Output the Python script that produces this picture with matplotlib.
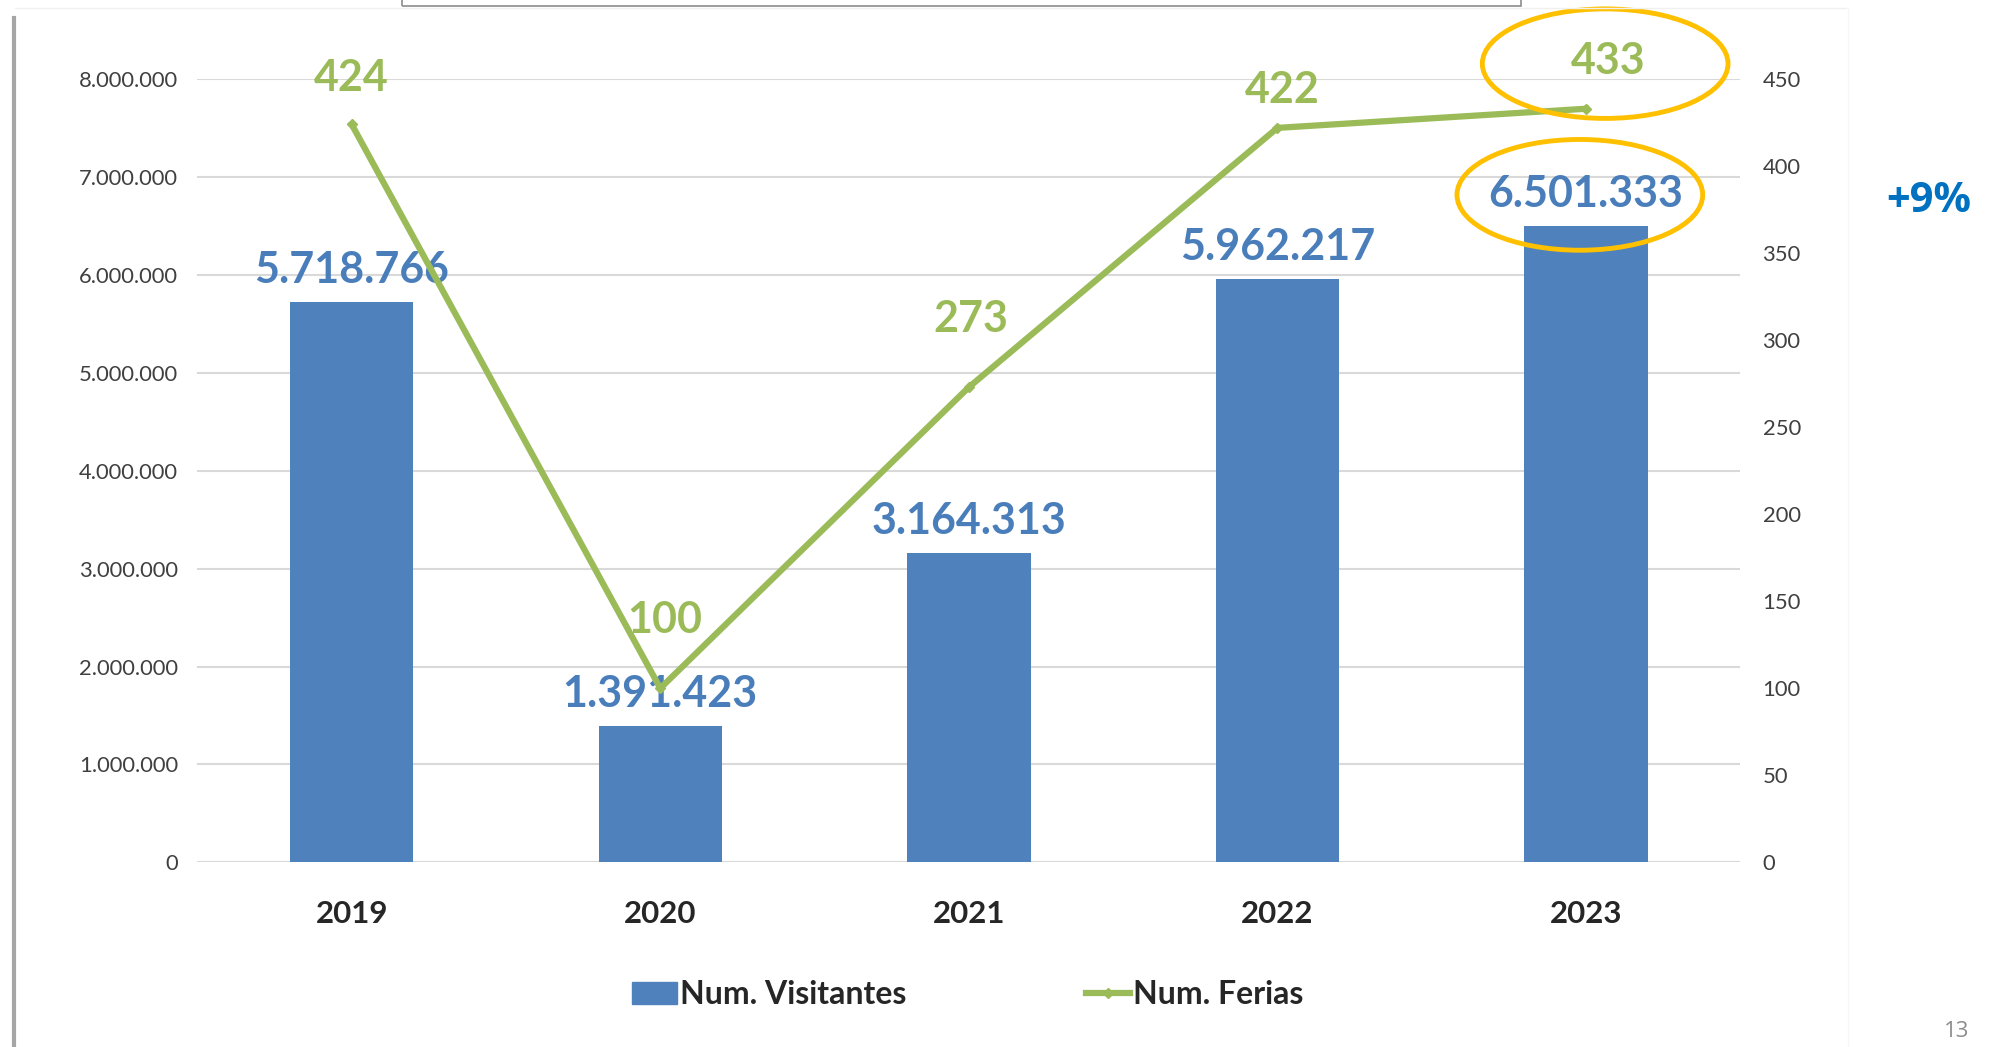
import matplotlib.pyplot as plt
from matplotlib.patches import Ellipse, Rectangle
from matplotlib.lines import Line2D
from matplotlib.ticker import FuncFormatter

years = ['2019', '2020', '2021', '2022', '2023']
visitantes = [5718766, 1391423, 3164313, 5962217, 6501333]
ferias = [424, 100, 273, 422, 433]
# label offsets above the line points (pixels)
ferias_dy = [46, 68, 68, 38, 48]
ferias_dx = [0, 4, 2, 5, 22]

BLUE = '#4f81bd'
GREEN = '#9bbb59'
plt.rcParams['font.family'] = ['Lato', 'DejaVu Sans']


def miles(v, pos=None):
    return f'{int(v):,}'.replace(',', '.')


fig = plt.figure(figsize=(19.96, 10.47), dpi=100)
ax = fig.add_axes([0.0989, 0.1764, 0.773, 0.748])
x = range(len(years))

ax.bar(x, visitantes, width=0.4, color=BLUE, zorder=2)
ax.set_xlim(-0.5, 4.5)
ax.set_ylim(0, 8000000)
ax.set_yticks(range(0, 8000001, 1000000))
ax.yaxis.set_major_formatter(FuncFormatter(miles))
ax.grid(axis='y', color='#d9d9d9', linewidth=1.5, zorder=0)
ax.set_axisbelow(True)
ax.set_xticks(list(x))
ax.set_xticklabels(years, fontsize=22.5, fontweight='bold', color='#262626')
ax.tick_params(axis='x', length=0, pad=27)
ax.tick_params(axis='y', length=0, pad=14, labelsize=15.8, labelcolor='#404040')
for s in ax.spines.values():
    s.set_visible(False)

for i, v in enumerate(visitantes):
    ax.annotate(miles(v), (i, v), xytext=(0, 12), textcoords='offset pixels',
                ha='center', va='bottom', fontsize=31, fontweight='bold',
                color='#4a7ebb', zorder=3)

ax2 = ax.twinx()
ax2.plot(x, ferias, color=GREEN, linewidth=4.5, marker='D', markersize=5, zorder=4)
ax2.set_ylim(0, 450)
ax2.set_yticks(range(0, 451, 50))
ax2.tick_params(axis='y', length=0, pad=16, labelsize=15.8, labelcolor='#404040')
for s in ax2.spines.values():
    s.set_visible(False)

for i, v in enumerate(ferias):
    ax2.annotate(str(v), (i, v), xytext=(ferias_dx[i], ferias_dy[i]), textcoords='offset pixels',
                 ha='center', va='center', fontsize=31, fontweight='bold', color=GREEN)

# highlight ellipses
fig.add_artist(Ellipse((0.8042, 0.9392), 0.1231, 0.1046, transform=fig.transFigure,
                       fill=False, edgecolor='#ffc000', linewidth=3.5))
fig.add_artist(Ellipse((0.7915, 0.8139), 0.1231, 0.1058, transform=fig.transFigure,
                       fill=False, edgecolor='#ffc000', linewidth=3.5))

handles = [Rectangle((0, 0), 1, 1, color=BLUE),
           Line2D([0], [0], color=GREEN, linewidth=4.5, marker='D', markersize=5)]
fig.legend(handles, ['Num. Visitantes', 'Num. Ferias'], loc='center',
           bbox_to_anchor=(0.485, 0.05), ncol=2, frameon=False,
           prop={'size': 23, 'weight': 'bold'}, labelcolor='#262626',
           handlelength=1.4, handleheight=0.7, handletextpad=0.1, columnspacing=5.6)

# slide decorations
fig.add_artist(Rectangle((316 / 1568, 1 - 5 / 822), (1195 - 316) / 1568, 0.05,
                         transform=fig.transFigure, fill=False, edgecolor='#8c8c8c', linewidth=1.2))
fig.add_artist(Line2D([11 / 1568, 11 / 1568], [0, 1 - 14 / 822], transform=fig.transFigure,
                      color='#a6a6a6', linewidth=3))
fig.add_artist(Line2D([12 / 1568, 1450 / 1568], [1 - 6 / 822, 1 - 6 / 822], transform=fig.transFigure,
                      color='#f0f0f0', linewidth=1))
fig.add_artist(Line2D([1452 / 1568, 1452 / 1568], [0, 1 - 6 / 822], transform=fig.transFigure,
                      color='#f6f6f6', linewidth=1))

fig.text(1515 / 1568, 1 - 158 / 822, '+9%', ha='center', va='center', fontsize=30,
         fontweight='bold', color='#0070c0', family=['Open Sans', 'DejaVu Sans'])
fig.text(1537 / 1568, 1 - 810 / 822, '13', ha='center', va='center', fontsize=16,
         color='#8c8c8c', family=['Open Sans', 'DejaVu Sans'])

fig.savefig('out.png', dpi=100)
